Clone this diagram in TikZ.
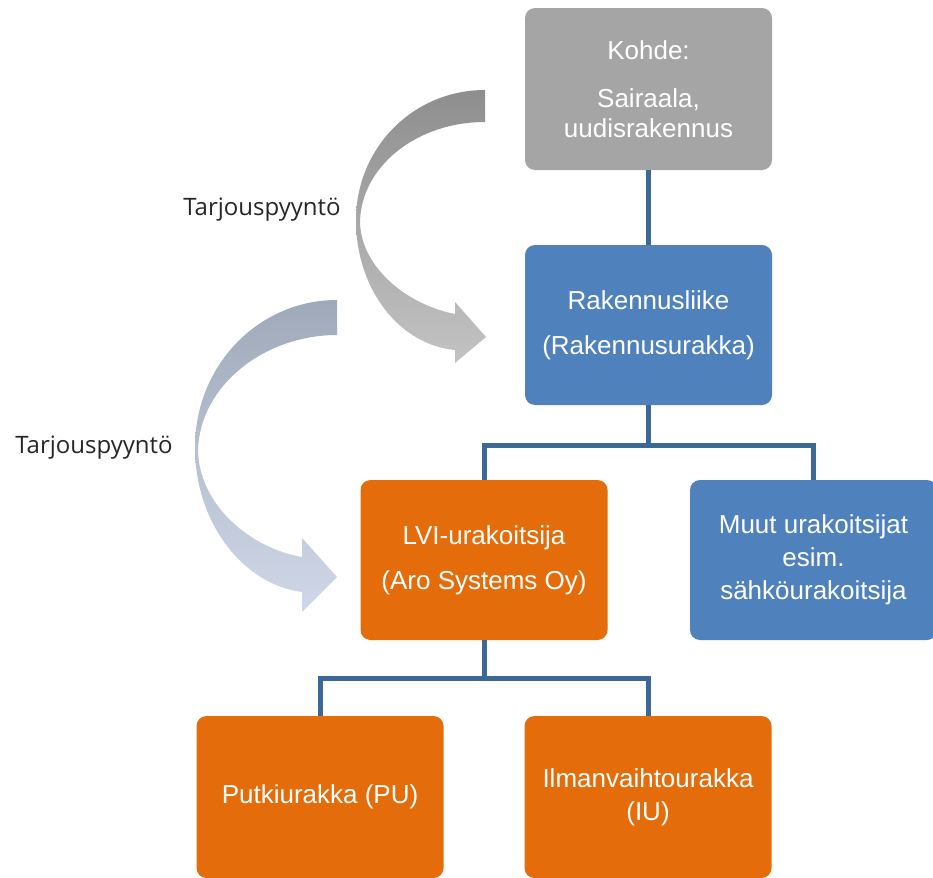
\documentclass[tikz,border=0pt]{standalone}
\usepackage{fontspec}
\setmainfont{Liberation Sans}
\newfontfamily\tarjousfont{Open Sans}
\newlength{\du}
\setlength{\du}{0.5pt}
\definecolor{kohdegray}{HTML}{A5A5A5}
\definecolor{rakblue}{HTML}{4F81BD}
\definecolor{lviorange}{HTML}{E46C0A}
\definecolor{linkblue}{HTML}{3C6898}
\definecolor{arrowdark}{HTML}{8E8E8E}
\definecolor{arrowlight}{HTML}{C3C3C3}
\definecolor{ribbondark}{HTML}{9FA9B9}
\definecolor{ribbonlight}{HTML}{D0D8E8}
\tikzset{
  orgbox/.style={rectangle, rounded corners=5pt, minimum width=123.5pt,
    minimum height=80pt, inner sep=0pt, text=white, align=center,
    font=\fontsize{13}{15}\selectfont},
  link/.style={draw=linkblue, line width=2.5pt},
  tarjous/.style={font=\tarjousfont\fontsize{12}{14}\selectfont, text=black!85},
}

\begin{document}
\begin{tikzpicture}
\pgftransformxscale{1.000000}
\pgftransformyscale{-1.000000}
\useasboundingbox (0\du,0\du) rectangle (933\du,878\du);
% curved arrows
\shade[top color=arrowdark, bottom color=arrowlight]
  (485\du,90\du) .. controls (413\du,90\du) and (356\du,148\du) .. (356\du,220\du)
  .. controls (356\du,290\du) and (400\du,345\du) .. (455\du,350\du)
  -- (455\du,363\du) -- (486\du,337\du) -- (455\du,302\du) -- (455\du,314\du)
  .. controls (408\du,305\du) and (361\du,268\du) .. (360\du,222\du)
  .. controls (361\du,167\du) and (416\du,122\du) .. (485\du,122\du) -- cycle;
\shade[top color=ribbondark, bottom color=ribbonlight]
  (337\du,300\du) .. controls (258\du,300\du) and (195\du,366\du) .. (195\du,447\du)
  .. controls (195\du,525\du) and (245\du,585\du) .. (302\du,592\du)
  -- (302\du,612\du) -- (337\du,577\du) -- (302\du,538\du) -- (302\du,557\du)
  .. controls (250\du,548\du) and (199\du,505\du) .. (198\du,450\du)
  .. controls (200\du,385\du) and (265\du,335\du) .. (337\du,335\du) -- cycle;
\node[tarjous] (tarjous1) at (262\du,210\du) {Tarjouspyyntö};
\node[tarjous] (tarjous2) at (94\du,448\du) {Tarjouspyyntö};
% boxes
\node[orgbox, fill=kohdegray, minimum height=81pt] (kohde) at (648.5\du,89\du)
  {Kohde:\\[9pt]Sairaala,\\uudisrakennus};
\node[orgbox, fill=rakblue] (rak) at (648.5\du,325\du)
  {Rakennusliike\\[7.5pt](Rakennusurakka)};
\node[orgbox, fill=lviorange] (lvi) at (484\du,560\du)
  {LVI-urakoitsija\\[7.5pt](Aro Systems Oy)};
\node[orgbox, fill=rakblue] (muut) at (813.5\du,560\du)
  {Muut urakoitsijat\\[1.5pt]esim.\\[1.5pt]sähköurakoitsija};
\node[orgbox, fill=lviorange, minimum height=81pt] (putki) at (320\du,797\du)
  {Putkiurakka (PU)};
\node[orgbox, fill=lviorange, minimum height=81pt] (ilman) at (648\du,797\du)
  {Ilmanvaihtourakka\\[1.5pt](IU)};
% links
\draw[link] (kohde) -- (rak);
\draw[link] (rak.south) -- ++(0,40\du) -| (lvi.north);
\draw[link] (rak.south) -- ++(0,40\du) -| (muut.north);
\draw[link] (lvi.south) -- ++(0,38\du) -| (putki.north);
\draw[link] (lvi.south) -- ++(0,38\du) -| (ilman.north);
\end{tikzpicture}
\end{document}
